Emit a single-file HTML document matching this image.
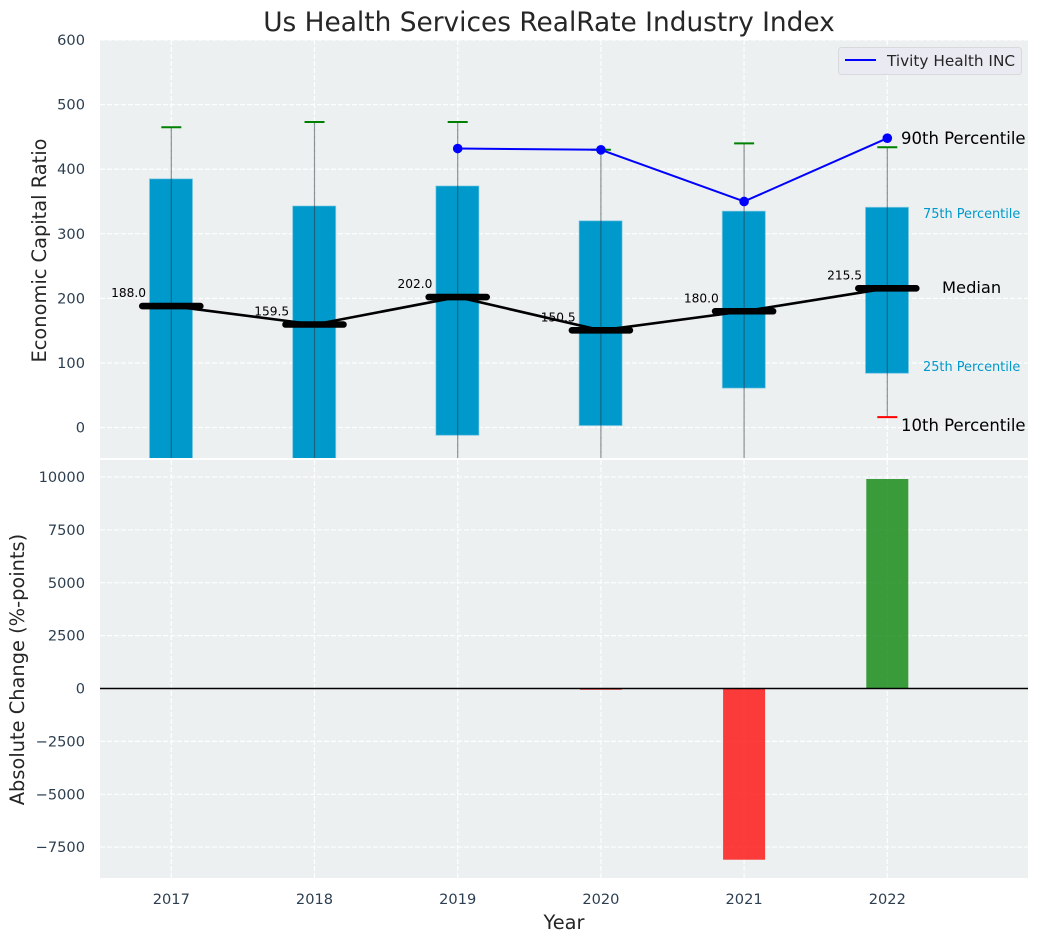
<!DOCTYPE html>
<html lang="en">
<head>
<meta charset="utf-8">
<title>Us Health Services RealRate Industry Index</title>
<style>
html,body{margin:0;padding:0;background:#fff;}
svg{display:block;font-family:"DejaVu Sans","Liberation Sans",sans-serif;}
</style>
</head>
<body>
<svg id="chart" width="1039" height="942" viewBox="0 0 1039 942" xmlns="http://www.w3.org/2000/svg">
<defs>
<clipPath id="clip-top"><rect x="100" y="40" width="928" height="418"/></clipPath>
<clipPath id="clip-bottom"><rect x="100" y="460" width="928" height="418"/></clipPath>
</defs>
<text x="549" y="31" font-size="26.4" text-anchor="middle" fill="#262626">Us Health Services RealRate Industry Index</text>
<rect x="100" y="40" width="928" height="418" fill="#ecf0f1"/>
<rect x="100" y="460" width="928" height="418" fill="#ecf0f1"/>
<g id="top-grid" clip-path="url(#clip-top)"></g>
<g id="bottom-grid" clip-path="url(#clip-bottom)"></g>
<g id="top-marks" clip-path="url(#clip-top)"></g>
<g id="bottom-marks" clip-path="url(#clip-bottom)"></g>
<g id="ticks"></g>
<g id="annotations"></g>
<text x="46" y="250.5" font-size="19.4" text-anchor="middle" fill="#262626" transform="rotate(-90 46 250.5)">Economic Capital Ratio</text>
<text x="24" y="669.5" font-size="19.4" text-anchor="middle" fill="#262626" transform="rotate(-90 24 669.5)">Absolute Change (%-points)</text>
<text x="564" y="929" font-size="19.4" text-anchor="middle" fill="#262626">Year</text>
<g>
<rect x="838.5" y="47.5" width="183" height="27" rx="3" fill="#eaeaf2" stroke="#d8d8dd"/>
<line x1="845" y1="60" x2="876" y2="60" stroke="#0000ff" stroke-width="2"/>
<text x="887" y="66" font-size="15.3" fill="#262626">Tivity Health INC</text>
</g>
<script>
var years = [2017, 2018, 2019, 2020, 2021, 2022];
var p90 = [465, 473, 473, 430, 440, 434];
var p75 = [385, 343, 374, 320, 335, 341];
var medians = [188, 159.5, 202, 150.5, 180, 215.5];
var p25 = [-110, -90, -12, 3, 61, 84];
var p10 = [-190, -180, -140, -120, -80, 16];
var company = [null, null, 432, 430, 350, 448];
var changes = [0, 0, 0, -60, -8095, 9905];
var topTicks = [0, 100, 200, 300, 400, 500, 600];
var bottomTicks = [-7500, -5000, -2500, 0, 2500, 5000, 7500, 10000];

var NS = 'http://www.w3.org/2000/svg';
function x(v) { return 171.3 + (v - 2017) * 143.2; }
function yTop(v) { return 427.5 - v * 0.6458; }
function yBottom(v) { return 688.5 - v * 0.02115; }
function make(parent, tag, attrs, text) {
  var el = document.createElementNS(NS, tag);
  for (var k in attrs) { el.setAttribute(k, attrs[k]); }
  if (text !== undefined) { el.textContent = text; }
  parent.appendChild(el);
  return el;
}
var topGrid = document.getElementById('top-grid');
var bottomGrid = document.getElementById('bottom-grid');
var topMarks = document.getElementById('top-marks');
var bottomMarks = document.getElementById('bottom-marks');
var ticks = document.getElementById('ticks');
var ann = document.getElementById('annotations');
function gridLine(parent, a, b, c, d, name) {
  var el = make(parent, 'line', { x1: a, y1: b, x2: c, y2: d, stroke: '#ffffff', 'stroke-width': 1.3, 'stroke-dasharray': '5 2', 'stroke-opacity': 0.9 });
  
  
}
topTicks.forEach(function (t) {
  gridLine(topGrid, 100, yTop(t), 1028, yTop(t), 'top-grid-line-y');
  var label = make(ticks, 'text', { x: 85, y: yTop(t) + 5, 'font-size': 14.6, 'text-anchor': 'end', fill: '#2c3e50' }, String(t));
  
  
});
bottomTicks.forEach(function (t) {
  gridLine(bottomGrid, 100, yBottom(t), 1028, yBottom(t), 'bottom-grid-line-y');
  var label = make(ticks, 'text', { x: 85, y: yBottom(t) + 5, 'font-size': 14.6, 'text-anchor': 'end', fill: '#2c3e50' }, String(t).replace('-', '\u2212'));
  
  
});
years.forEach(function (yr) {
  gridLine(topGrid, x(yr), 40, x(yr), 458, 'top-grid-line-x');
  gridLine(bottomGrid, x(yr), 460, x(yr), 878, 'bottom-grid-line-x');
  var label = make(ticks, 'text', { x: x(yr), y: 904, 'font-size': 14.6, 'text-anchor': 'middle', fill: '#2c3e50' }, String(yr));
  
  
});
var halfBox = 21.5;
var halfCap = 10;
var halfMedian = 29;
years.forEach(function (yr, i) {
  var box = make(topMarks, 'rect', { x: x(yr) - halfBox - 0.3, y: yTop(p75[i]), width: halfBox * 2, height: yTop(p25[i]) - yTop(p75[i]), fill: '#0099cc', stroke: '#7cc7e2', 'stroke-opacity': 0.6, 'stroke-width': 1 });
  
  
});
years.forEach(function (yr, i) {
  var whisker = make(topMarks, 'line', { x1: x(yr), y1: yTop(p90[i]), x2: x(yr), y2: yTop(p10[i]), stroke: '#2b3a42', 'stroke-opacity': 0.55, 'stroke-width': 1.2 });
  
  
  var capHi = make(topMarks, 'line', { x1: x(yr) - halfCap, y1: yTop(p90[i]), x2: x(yr) + halfCap, y2: yTop(p90[i]), stroke: '#008000', 'stroke-width': 2 });
  
  
  var capLo = make(topMarks, 'line', { x1: x(yr) - halfCap, y1: yTop(p10[i]), x2: x(yr) + halfCap, y2: yTop(p10[i]), stroke: '#ff0000', 'stroke-width': 2 });
  
  
});
var medianPts = years.map(function (yr, i) { return x(yr) + ',' + yTop(medians[i]); }).join(' ');
var medianLine = make(topMarks, 'polyline', { points: medianPts, fill: 'none', stroke: '#000000', 'stroke-width': 2.6 });


years.forEach(function (yr, i) {
  var seg = make(topMarks, 'line', { x1: x(yr) - halfMedian, y1: yTop(medians[i]), x2: x(yr) + halfMedian, y2: yTop(medians[i]), stroke: '#000000', 'stroke-width': 6.6, 'stroke-linecap': 'round' });
  
  
  var label = make(ann, 'text', { x: x(yr) - 25.3, y: yTop(medians[i]) - 9, 'font-size': 12.2, 'text-anchor': 'end', fill: '#000000' }, medians[i].toFixed(1));
  
  
});
var companyPts = [];
years.forEach(function (yr, i) {
  if (company[i] !== null) { companyPts.push(x(yr) + ',' + yTop(company[i])); }
});
var companyLine = make(topMarks, 'polyline', { points: companyPts.join(' '), fill: 'none', stroke: '#0000ff', 'stroke-width': 2 });


years.forEach(function (yr, i) {
  if (company[i] === null) { return; }
  var dot = make(topMarks, 'circle', { cx: x(yr), cy: yTop(company[i]), r: 4.8, fill: '#0000ff' });
  
  
});
years.forEach(function (yr, i) {
  if (changes[i] === 0) { return; }
  var top = Math.min(yBottom(changes[i]), yBottom(0));
  var h = Math.abs(yBottom(changes[i]) - yBottom(0));
  var bar = make(bottomMarks, 'rect', { x: x(yr) - 21, y: top, width: 42, height: h, fill: changes[i] > 0 ? '#008000' : '#ff0000', 'fill-opacity': 0.76 });
  
  
});
var zero = make(bottomMarks, 'line', { x1: 100, y1: yBottom(0), x2: 1028, y2: yBottom(0), stroke: '#000000', 'stroke-width': 1.4 });



var last = years.length - 1;
var l90 = make(ann, 'text', { x: x(years[last]) + 13.7, y: 144, 'font-size': 16.5, fill: '#000000' }, '90th Percentile');


var l75 = make(ann, 'text', { x: x(years[last]) + 35.7, y: 218, 'font-size': 12.9, fill: '#0099cc' }, '75th Percentile');


var lMed = make(ann, 'text', { x: x(years[last]) + 54.7, y: 293, 'font-size': 16.3, fill: '#000000' }, 'Median');


var l25 = make(ann, 'text', { x: x(years[last]) + 35.7, y: 371, 'font-size': 12.9, fill: '#0099cc' }, '25th Percentile');


var l10 = make(ann, 'text', { x: x(years[last]) + 13.7, y: 431, 'font-size': 16.5, fill: '#000000' }, '10th Percentile');


</script>
</svg>
</body>
</html>
